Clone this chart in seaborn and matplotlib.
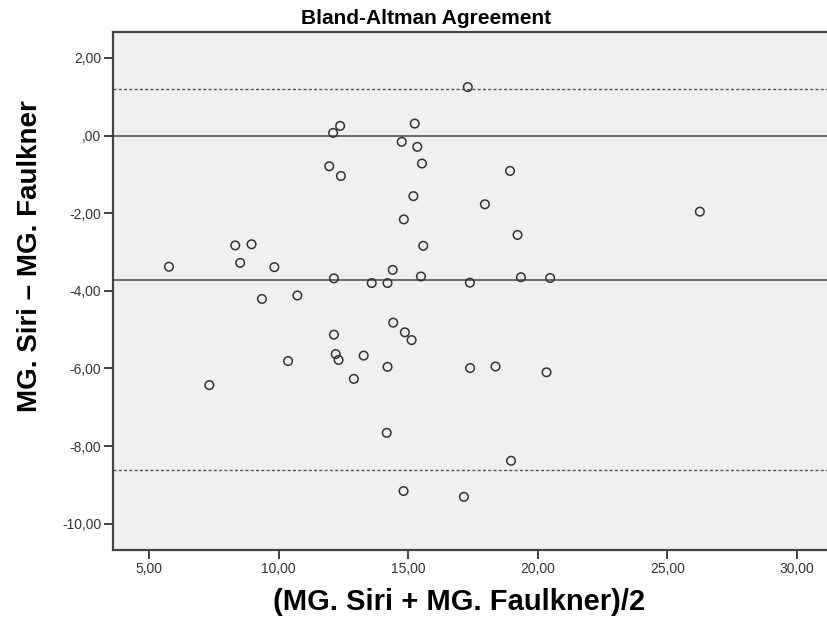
import matplotlib
matplotlib.use("Agg")
import matplotlib.pyplot as plt
from matplotlib.ticker import FuncFormatter, FixedLocator
import seaborn as sns
import pandas as pd

# ---- data ----
mean_x = [17.30, 12.37, 12.10, 11.95, 12.40, 15.25, 14.75, 15.35, 15.53, 18.93,
          15.20, 17.96, 14.83, 26.26, 19.22, 15.58, 5.76, 8.32, 8.95, 8.51,
          9.83, 9.35, 10.72, 12.13, 13.59, 14.20, 14.40, 15.49, 17.38, 19.35,
          20.48, 12.13, 14.42, 14.87, 15.13, 12.20, 12.31, 13.28, 10.36, 12.90,
          14.20, 7.32, 17.39, 18.37, 20.34, 14.17, 14.82, 18.97, 17.15]
diff_y = [1.25, 0.25, 0.07, -0.79, -1.04, 0.31, -0.16, -0.29, -0.72, -0.91,
          -1.56, -1.77, -2.16, -1.96, -2.56, -2.84, -3.38, -2.83, -2.80, -3.28,
          -3.39, -4.21, -4.12, -3.68, -3.80, -3.80, -3.46, -3.63, -3.79, -3.65,
          -3.67, -5.13, -4.82, -5.07, -5.27, -5.63, -5.78, -5.67, -5.81, -6.27,
          -5.96, -6.43, -5.99, -5.95, -6.10, -7.66, -9.16, -8.38, -9.31]
mean_diff = -3.72
upper_loa = 1.19
lower_loa = -8.62
zero_line = 0.0
x_ticks = [5, 10, 15, 20, 25, 30]
y_ticks = [2, 0, -2, -4, -6, -8, -10]
title = "Bland-Altman Agreement"
x_label = "(MG. Siri + MG. Faulkner)/2"
y_label = "MG. Siri \u2013 MG. Faulkner"

df = pd.DataFrame({"x": mean_x, "y": diff_y})

sns.set_style("white")
plt.rcParams["font.family"] = ["Liberation Sans", "DejaVu Sans"]

fig = plt.figure(figsize=(8.27, 6.29), dpi=100)
ax = fig.add_axes([113 / 827, 1 - 550 / 629, 714 / 827, 518 / 629])
ax.set_facecolor("#f0f0f0")

line_col = "#555555"
ax.axhline(upper_loa, color=line_col, lw=1.0, ls=(0, (2.2, 1.6)), zorder=1)
ax.axhline(lower_loa, color=line_col, lw=1.0, ls=(0, (2.2, 1.6)), zorder=1)
ax.axhline(zero_line, color=line_col, lw=1.2, zorder=1)
ax.axhline(mean_diff, color=line_col, lw=1.2, zorder=1)

sns.scatterplot(data=df, x="x", y="y", ax=ax, marker="o", s=38,
                linewidth=1.1, zorder=3, legend=False)
coll = ax.collections[-1]
coll.set_facecolor("none")
coll.set_edgecolor("#333333")

ax.set_xlim(3.6, 31.17)
ax.set_ylim(-10.68, 2.67)


def fmt(v, pos=None):
    if abs(v) < 1e-9:
        return ",00"
    return f"{v:.2f}".replace(".", ",")


ax.xaxis.set_major_locator(FixedLocator(x_ticks))
ax.yaxis.set_major_locator(FixedLocator(y_ticks))
ax.xaxis.set_major_formatter(FuncFormatter(fmt))
ax.yaxis.set_major_formatter(FuncFormatter(fmt))
ax.tick_params(axis="both", direction="out", length=6.5, width=1.3,
               color="#333333", labelcolor="#333333", labelsize=10, pad=2)
ax.tick_params(axis="both", which="both", bottom=True, left=True)

for side in ["left", "bottom", "top"]:
    ax.spines[side].set_visible(True)
    ax.spines[side].set_color("#444444")
    ax.spines[side].set_linewidth(1.6)
ax.spines["right"].set_visible(False)

ax.set_title(title, fontsize=15, fontweight="bold", color="black",
             x=(426 - 113) / 714, pad=6)
ax.set_xlabel(x_label, fontsize=21, fontweight="bold", color="black", va="center")
ax.xaxis.set_label_coords((459 - 113) / 714, (550 - 602) / 518)
ax.set_ylabel(y_label, fontsize=20, fontweight="bold", color="black",
              va="center", ha="center")
ax.yaxis.set_label_coords((30 - 113) / 714, (550 - 256) / 518)

fig.savefig("out.png", dpi=100)
